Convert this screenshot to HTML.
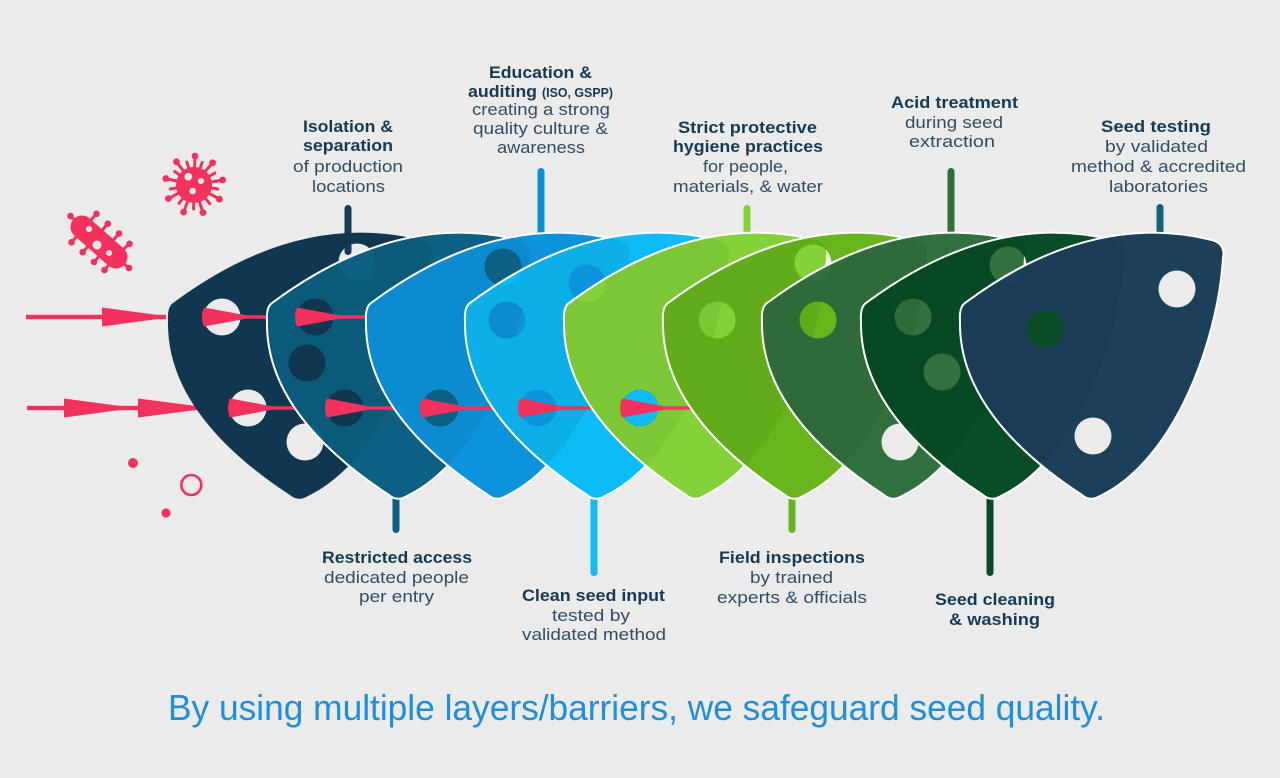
<!DOCTYPE html>
<html>
<head>
<meta charset="utf-8">
<style>
html,body{margin:0;padding:0;background:#ebebeb;}
svg{display:block;}
.b{font-family:"Liberation Sans",sans-serif;font-weight:700;font-size:17px;fill:#153a56;}
.r{font-family:"Liberation Sans",sans-serif;font-weight:400;font-size:17px;fill:#2f4d66;}
</style>
</head>
<body>
<svg width="1280" height="778" viewBox="0 0 1280 778" xmlns="http://www.w3.org/2000/svg">
<defs>
  <path id="o" d="M5,-7 Q130,-100 252,-70 Q266,-66 263,-52 C258,30 215,150 140,186 Q130,192 122,185 C50,138 -1,80 0,12 Q-1,-3 5,-7 Z"/>
  <path id="p1" fill-rule="evenodd" clip-rule="evenodd" d="M5,-7 Q130,-100 252,-70 Q266,-66 263,-52 C258,30 215,150 140,186 Q130,192 122,185 C50,138 -1,80 0,12 Q-1,-3 5,-7 Z
    M35.5,7 a18.5,18.5 0 1,0 37,0 a18.5,18.5 0 1,0 -37,0 Z
    M61.5,98 a18.5,18.5 0 1,0 37,0 a18.5,18.5 0 1,0 -37,0 Z
    M118.5,132 a18.5,18.5 0 1,0 37,0 a18.5,18.5 0 1,0 -37,0 Z
    M170.5,-48 a18.5,18.5 0 1,0 37,0 a18.5,18.5 0 1,0 -37,0 Z"/>
  <path id="p2" fill-rule="evenodd" clip-rule="evenodd" d="M5,-7 Q130,-100 252,-70 Q266,-66 263,-52 C258,30 215,150 140,186 Q130,192 122,185 C50,138 -1,80 0,12 Q-1,-3 5,-7 Z
    M29.5,7 a18.5,18.5 0 1,0 37,0 a18.5,18.5 0 1,0 -37,0 Z
    M21.5,53 a18.5,18.5 0 1,0 37,0 a18.5,18.5 0 1,0 -37,0 Z
    M59.5,98 a18.5,18.5 0 1,0 37,0 a18.5,18.5 0 1,0 -37,0 Z"/>
  <path id="p3" fill-rule="evenodd" clip-rule="evenodd" d="M5,-7 Q130,-100 252,-70 Q266,-66 263,-52 C258,30 215,150 140,186 Q130,192 122,185 C50,138 -1,80 0,12 Q-1,-3 5,-7 Z
    M118.5,-43 a18.5,18.5 0 1,0 37,0 a18.5,18.5 0 1,0 -37,0 Z
    M55.5,98 a18.5,18.5 0 1,0 37,0 a18.5,18.5 0 1,0 -37,0 Z"/>
  <path id="p4" fill-rule="evenodd" clip-rule="evenodd" d="M5,-7 Q130,-100 252,-70 Q266,-66 263,-52 C258,30 215,150 140,186 Q130,192 122,185 C50,138 -1,80 0,12 Q-1,-3 5,-7 Z
    M103.5,-27 a18.5,18.5 0 1,0 37,0 a18.5,18.5 0 1,0 -37,0 Z
    M23.5,10 a18.5,18.5 0 1,0 37,0 a18.5,18.5 0 1,0 -37,0 Z
    M54.5,98 a18.5,18.5 0 1,0 37,0 a18.5,18.5 0 1,0 -37,0 Z"/>
  <path id="p5" fill-rule="evenodd" clip-rule="evenodd" d="M5,-7 Q130,-100 252,-70 Q266,-66 263,-52 C258,30 215,150 140,186 Q130,192 122,185 C50,138 -1,80 0,12 Q-1,-3 5,-7 Z
    M57.5,98 a18.5,18.5 0 1,0 37,0 a18.5,18.5 0 1,0 -37,0 Z"/>
  <path id="p6" fill-rule="evenodd" clip-rule="evenodd" d="M5,-7 Q130,-100 252,-70 Q266,-66 263,-52 C258,30 215,150 140,186 Q130,192 122,185 C50,138 -1,80 0,12 Q-1,-3 5,-7 Z
    M35.5,10 a18.5,18.5 0 1,0 37,0 a18.5,18.5 0 1,0 -37,0 Z
    M131.5,-47 a18.5,18.5 0 1,0 37,0 a18.5,18.5 0 1,0 -37,0 Z"/>
  <path id="p7" fill-rule="evenodd" clip-rule="evenodd" d="M5,-7 Q130,-100 252,-70 Q266,-66 263,-52 C258,30 215,150 140,186 Q130,192 122,185 C50,138 -1,80 0,12 Q-1,-3 5,-7 Z
    M37.5,10 a18.5,18.5 0 1,0 37,0 a18.5,18.5 0 1,0 -37,0 Z
    M119.5,132 a18.5,18.5 0 1,0 37,0 a18.5,18.5 0 1,0 -37,0 Z"/>
  <path id="p8" fill-rule="evenodd" clip-rule="evenodd" d="M5,-7 Q130,-100 252,-70 Q266,-66 263,-52 C258,30 215,150 140,186 Q130,192 122,185 C50,138 -1,80 0,12 Q-1,-3 5,-7 Z
    M33.5,7 a18.5,18.5 0 1,0 37,0 a18.5,18.5 0 1,0 -37,0 Z
    M62.5,62 a18.5,18.5 0 1,0 37,0 a18.5,18.5 0 1,0 -37,0 Z
    M128.5,-45 a18.5,18.5 0 1,0 37,0 a18.5,18.5 0 1,0 -37,0 Z"/>
  <path id="p9" fill-rule="evenodd" clip-rule="evenodd" d="M5,-7 Q130,-100 252,-70 Q266,-66 263,-52 C258,30 215,150 140,186 Q130,192 122,185 C50,138 -1,80 0,12 Q-1,-3 5,-7 Z
    M66.5,19 a18.5,18.5 0 1,0 37,0 a18.5,18.5 0 1,0 -37,0 Z
    M198.5,-21 a18.5,18.5 0 1,0 37,0 a18.5,18.5 0 1,0 -37,0 Z
    M114.5,126 a18.5,18.5 0 1,0 37,0 a18.5,18.5 0 1,0 -37,0 Z"/>
  <clipPath id="c2"><use href="#p2"/></clipPath>
  <clipPath id="c3"><use href="#p3"/></clipPath>
  <clipPath id="c4"><use href="#p4"/></clipPath>
  <clipPath id="c5"><use href="#p5"/></clipPath>
  <clipPath id="c6"><use href="#p6"/></clipPath>
  <clipPath id="c7"><use href="#p7"/></clipPath>
  <clipPath id="c8"><use href="#p8"/></clipPath>
  <clipPath id="c9"><use href="#p9"/></clipPath>
</defs>

<rect width="1280" height="778" fill="#ebebeb"/>

<!-- connector bars (drawn under shapes) -->
<rect x="344.5" y="205" width="7" height="50" rx="3.5" fill="#153b55"/>
<rect x="537.5" y="168" width="7" height="80" rx="3.5" fill="#0c8fd8"/>
<rect x="743.5" y="205" width="7" height="50" rx="3.5" fill="#84d23a"/>
<rect x="947.5" y="168" width="7" height="80" rx="3.5" fill="#2e6e3a"/>
<rect x="1156.5" y="204" width="7" height="50" rx="3.5" fill="#10607f"/>
<rect x="392.5" y="470" width="7" height="63" rx="3.5" fill="#0d5f80"/>
<rect x="590.5" y="470" width="7" height="106" rx="3.5" fill="#10bcf5"/>
<rect x="788.5" y="470" width="7" height="63" rx="3.5" fill="#67b41c"/>
<rect x="986.5" y="470" width="7" height="106" rx="3.5" fill="#074b24"/>

<!-- viruses -->
<g stroke="#f2325c" stroke-width="3" stroke-linecap="round" fill="#f2325c">
  <line x1="194" y1="185" x2="195" y2="156"/>
  <line x1="194" y1="185" x2="176.5" y2="161.8"/>
  <line x1="194" y1="185" x2="212.6" y2="162.8"/>
  <line x1="194" y1="185" x2="165.8" y2="178.5"/>
  <line x1="194" y1="185" x2="222.6" y2="180"/>
  <line x1="194" y1="185" x2="168.4" y2="198.6"/>
  <line x1="194" y1="185" x2="219.4" y2="199.1"/>
  <line x1="194" y1="185" x2="183.6" y2="212.1"/>
  <line x1="194" y1="185" x2="203" y2="212.6"/>
  <line x1="194" y1="185" x2="186.9" y2="162.1"/>
  <line x1="194" y1="185" x2="202.2" y2="162.5"/>
  <line x1="194" y1="185" x2="174.7" y2="171.5"/>
  <line x1="194" y1="185" x2="214.9" y2="173"/>
  <line x1="194" y1="185" x2="170.3" y2="189"/>
  <line x1="194" y1="185" x2="217.7" y2="189"/>
  <line x1="194" y1="185" x2="178.9" y2="203.4"/>
  <line x1="194" y1="185" x2="209.8" y2="203.6"/>
  <line x1="194" y1="185" x2="193.6" y2="209"/>
  <g stroke="none">
    <circle cx="194" cy="185" r="18"/>
    <circle cx="195" cy="156" r="3.4"/>
    <circle cx="176.5" cy="161.8" r="3.4"/>
    <circle cx="212.6" cy="162.8" r="3.4"/>
    <circle cx="165.8" cy="178.5" r="3.4"/>
    <circle cx="222.6" cy="180" r="3.4"/>
    <circle cx="168.4" cy="198.6" r="3.4"/>
    <circle cx="219.4" cy="199.1" r="3.4"/>
    <circle cx="183.6" cy="212.1" r="3.4"/>
    <circle cx="203" cy="212.6" r="3.4"/>
  </g>
</g>
<g fill="#ebebeb">
  <circle cx="188.3" cy="176.7" r="3.8"/>
  <circle cx="201" cy="181" r="3"/>
  <circle cx="192.7" cy="191" r="3.3"/>
</g>

<g stroke="#f2325c" stroke-linecap="round" fill="#f2325c">
  <line x1="82" y1="227" x2="116" y2="257" stroke-width="23"/>
  <g stroke-width="3">
    <line x1="82" y1="227" x2="70.5" y2="216"/>
    <line x1="116" y1="257" x2="129" y2="268"/>
    <line x1="84" y1="228" x2="71.5" y2="242.3"/>
    <line x1="84" y1="228" x2="96.5" y2="213.8"/>
    <line x1="95.3" y1="237.9" x2="82.7" y2="252.2"/>
    <line x1="95.3" y1="237.9" x2="107.8" y2="223.7"/>
    <line x1="106.5" y1="247.8" x2="94" y2="262"/>
    <line x1="106.5" y1="247.8" x2="119" y2="233.5"/>
    <line x1="116" y1="256" x2="104.5" y2="270"/>
    <line x1="116" y1="256" x2="129.5" y2="243.8"/>
  </g>
  <g stroke="none">
    <circle cx="70.5" cy="216" r="3.3"/>
    <circle cx="129" cy="268" r="3.3"/>
    <circle cx="71.5" cy="242.3" r="3.3"/>
    <circle cx="96.5" cy="213.8" r="3.3"/>
    <circle cx="82.7" cy="252.2" r="3.3"/>
    <circle cx="107.8" cy="223.7" r="3.3"/>
    <circle cx="94" cy="262" r="3.3"/>
    <circle cx="119" cy="233.5" r="3.3"/>
    <circle cx="104.5" cy="270" r="3.3"/>
    <circle cx="129.5" cy="243.8" r="3.3"/>
  </g>
</g>
<g fill="#ebebeb">
  <circle cx="89" cy="229" r="3"/>
  <circle cx="97" cy="245" r="4.5"/>
  <circle cx="109" cy="253" r="3"/>
</g>

<!-- small decor -->
<circle cx="133" cy="463" r="5" fill="#f2325c"/>
<circle cx="166" cy="513" r="4.6" fill="#f2325c"/>
<circle cx="191.3" cy="485" r="10" fill="none" stroke="#f2325c" stroke-width="2.6"/>

<!-- outside darts -->
<g fill="#f2325c">
  <rect x="26" y="314.8" width="140" height="4.4"/>
  <polygon points="102,307.5 158,315 158,319 102,326.5"/>
  <rect x="27" y="405.8" width="170" height="4.4"/>
  <polygon points="64,398.5 120,406 120,410 64,417.5"/>
  <polygon points="138,398.5 196,406 196,410 138,417.5"/>
</g>

<!-- shape 1 -->
<g transform="translate(168,310)">
  <use href="#p1" fill="#11364f"/>
</g>
<g fill="#f2325c">
  <path d="M204,307.5 Q200,317 204,326.5 L246,318.8 L280,318.8 L280,315.2 L246,315.2 Z"/>
  <path d="M230,398.5 Q226,408 230,417.5 L272,409.8 L305,409.8 L305,406.2 L272,406.2 Z"/>
</g>

<!-- shape 2 -->
<g transform="translate(267,310)">
  <use href="#p2" fill="#0d6082"/>
  <g clip-path="url(#c2)"><use href="#p1" transform="translate(-99,0)" fill="#000" fill-opacity="0.06"/></g>
  <use href="#o" fill="none" stroke="#fff" stroke-width="2"/>
</g>
<g fill="#f2325c">
  <path d="M297,307.5 Q293,317 297,326.5 L339,318.8 L380,318.8 L380,315.2 L339,315.2 Z"/>
  <path d="M327,398.5 Q323,408 327,417.5 L369,409.8 L404,409.8 L404,406.2 L369,406.2 Z"/>
</g>

<!-- shape 3 -->
<g transform="translate(366,310)">
  <use href="#p3" fill="#0d93dc"/>
  <g clip-path="url(#c3)"><use href="#p2" transform="translate(-99,0)" fill="#000" fill-opacity="0.06"/></g>
  <use href="#o" fill="none" stroke="#fff" stroke-width="2"/>
</g>
<g fill="#f2325c">
  <path d="M422,398.5 Q418,408 422,417.5 L464,409.8 L503,409.8 L503,406.2 L464,406.2 Z"/>
</g>

<!-- shape 4 -->
<g transform="translate(465,310)">
  <use href="#p4" fill="#0dbcf6"/>
  <g clip-path="url(#c4)"><use href="#p3" transform="translate(-99,0)" fill="#000" fill-opacity="0.06"/></g>
  <use href="#o" fill="none" stroke="#fff" stroke-width="2"/>
</g>
<g fill="#f2325c">
  <path d="M520,398.5 Q516,408 520,417.5 L562,409.8 L602,409.8 L602,406.2 L562,406.2 Z"/>
</g>

<!-- shape 5 -->
<g transform="translate(564,310)">
  <use href="#p5" fill="#84d23a"/>
  <g clip-path="url(#c5)"><use href="#p4" transform="translate(-99,0)" fill="#000" fill-opacity="0.05"/></g>
  <use href="#o" fill="none" stroke="#fff" stroke-width="2"/>
</g>
<g fill="#f2325c">
  <path d="M622,398.5 Q618,408 622,417.5 L664,409.8 L701,409.8 L701,406.2 L664,406.2 Z"/>
</g>

<!-- shape 6 -->
<g transform="translate(663,310)">
  <use href="#p6" fill="#68b51d"/>
  <g clip-path="url(#c6)"><use href="#p5" transform="translate(-99,0)" fill="#000" fill-opacity="0.05"/></g>
  <use href="#o" fill="none" stroke="#fff" stroke-width="2"/>
</g>

<!-- shape 7 -->
<g transform="translate(762,310)">
  <use href="#p7" fill="#31713d"/>
  <g clip-path="url(#c7)"><use href="#p6" transform="translate(-99,0)" fill="#000" fill-opacity="0.05"/></g>
  <use href="#o" fill="none" stroke="#fff" stroke-width="2"/>
</g>

<!-- shape 8 -->
<g transform="translate(861,310)">
  <use href="#p8" fill="#084d26"/>
  <g clip-path="url(#c8)"><use href="#p7" transform="translate(-99,0)" fill="#000" fill-opacity="0.05"/></g>
  <use href="#o" fill="none" stroke="#fff" stroke-width="2"/>
</g>

<!-- shape 9 -->
<g transform="translate(960,310)">
  <use href="#p9" fill="#1c405a"/>
  <g clip-path="url(#c9)"><use href="#p8" transform="translate(-99,0)" fill="#000" fill-opacity="0.06"/></g>
  <use href="#o" fill="none" stroke="#fff" stroke-width="2"/>
</g>

<!-- labels top -->
<text class="b" x="303" y="132" textLength="90" lengthAdjust="spacingAndGlyphs">Isolation &amp;</text>
<text class="b" x="303" y="151" textLength="90" lengthAdjust="spacingAndGlyphs">separation</text>
<text class="r" x="293" y="172" textLength="110" lengthAdjust="spacingAndGlyphs">of production</text>
<text class="r" x="312" y="192" textLength="73" lengthAdjust="spacingAndGlyphs">locations</text>

<text class="b" x="489" y="78" textLength="103" lengthAdjust="spacingAndGlyphs">Education &amp;</text>
<text class="b" x="468" y="97" textLength="69" lengthAdjust="spacingAndGlyphs">auditing</text>
<text class="b" x="542" y="97" textLength="71" lengthAdjust="spacingAndGlyphs" style="font-size:12.5px">(ISO, GSPP)</text>
<text class="r" x="472" y="115" textLength="138" lengthAdjust="spacingAndGlyphs">creating a strong</text>
<text class="r" x="473" y="134" textLength="135" lengthAdjust="spacingAndGlyphs">quality culture &amp;</text>
<text class="r" x="497" y="153" textLength="88" lengthAdjust="spacingAndGlyphs">awareness</text>

<text class="b" x="678" y="133" textLength="139" lengthAdjust="spacingAndGlyphs">Strict protective</text>
<text class="b" x="673" y="152" textLength="150" lengthAdjust="spacingAndGlyphs">hygiene practices</text>
<text class="r" x="703" y="172" textLength="85" lengthAdjust="spacingAndGlyphs">for people,</text>
<text class="r" x="673" y="192" textLength="150" lengthAdjust="spacingAndGlyphs">materials, &amp; water</text>

<text class="b" x="891" y="108" textLength="127" lengthAdjust="spacingAndGlyphs">Acid treatment</text>
<text class="r" x="905" y="128" textLength="98" lengthAdjust="spacingAndGlyphs">during seed</text>
<text class="r" x="909" y="147" textLength="86" lengthAdjust="spacingAndGlyphs">extraction</text>

<text class="b" x="1101" y="132" textLength="110" lengthAdjust="spacingAndGlyphs">Seed testing</text>
<text class="r" x="1105" y="152" textLength="103" lengthAdjust="spacingAndGlyphs">by validated</text>
<text class="r" x="1071" y="172" textLength="175" lengthAdjust="spacingAndGlyphs">method &amp; accredited</text>
<text class="r" x="1109" y="192" textLength="99" lengthAdjust="spacingAndGlyphs">laboratories</text>

<!-- labels bottom -->
<text class="b" x="322" y="563" textLength="150" lengthAdjust="spacingAndGlyphs">Restricted access</text>
<text class="r" x="324" y="583" textLength="145" lengthAdjust="spacingAndGlyphs">dedicated people</text>
<text class="r" x="359" y="602" textLength="75" lengthAdjust="spacingAndGlyphs">per entry</text>

<text class="b" x="522" y="601" textLength="143" lengthAdjust="spacingAndGlyphs">Clean seed input</text>
<text class="r" x="552" y="621" textLength="78" lengthAdjust="spacingAndGlyphs">tested by</text>
<text class="r" x="522" y="640" textLength="144" lengthAdjust="spacingAndGlyphs">validated method</text>

<text class="b" x="719" y="563" textLength="146" lengthAdjust="spacingAndGlyphs">Field inspections</text>
<text class="r" x="750" y="583" textLength="83" lengthAdjust="spacingAndGlyphs">by trained</text>
<text class="r" x="717" y="603" textLength="150" lengthAdjust="spacingAndGlyphs">experts &amp; officials</text>

<text class="b" x="935" y="605" textLength="120" lengthAdjust="spacingAndGlyphs">Seed cleaning</text>
<text class="b" x="949" y="625" textLength="91" lengthAdjust="spacingAndGlyphs">&amp; washing</text>

<!-- caption -->
<text x="168" y="720" textLength="937" lengthAdjust="spacingAndGlyphs" style="font-family:'Liberation Sans',sans-serif;font-size:36px;fill:#1e8fdb;">By using multiple layers/barriers, we safeguard seed quality.</text>
</svg>
</body>
</html>
